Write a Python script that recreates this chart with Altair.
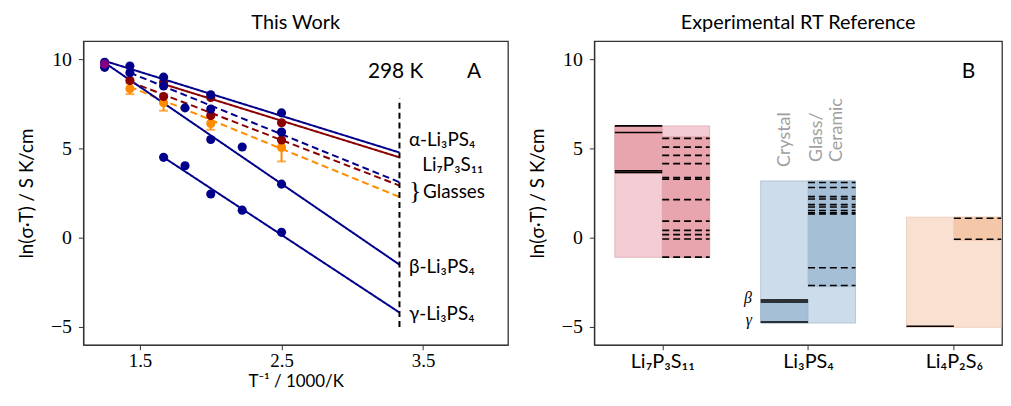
import altair as alt
import pandas as pd

SANS = "Lato"
SERIF = "Liberation Serif"

# ---------------- Panel A data ----------------
pt_series = (["glass_o"] * 4 + ["glass_r"] * 4 + ["li7"] * 3 + ["glass_b"] * 4 +
             ["beta"] * 5 + ["gamma"] * 5 + ["alpha"] * 5 + ["purple"])
pt_x = [1.4286, 1.6667, 2.0, 2.5,
        1.4286, 1.6667, 2.0, 2.5,
        1.6667, 2.0, 2.5,
        1.4286, 1.6667, 2.0, 2.5,
        1.25, 1.8182, 2.0, 2.2222, 2.5,
        1.6667, 1.8182, 2.0, 2.2222, 2.5,
        1.25, 1.4286, 1.6667, 2.0, 2.5,
        1.25]
pt_y = [8.34, 7.56, 6.40, 5.05,
        8.80, 7.91, 6.84, 5.47,
        8.70, 7.85, 6.44,
        9.24, 8.50, 7.21, 5.92,
        9.54, 7.27, 5.50, 5.08, 3.00,
        4.50, 4.03, 2.45, 1.54, 0.30,
        9.82, 9.61, 8.99, 8.00, 6.99,
        9.72]

err_x = [1.4286, 1.6667, 2.0, 2.5]
err_y = [8.34, 7.56, 6.40, 5.05]
err_sd = [0.30, 0.45, 0.35, 0.78]

fit_series = ["alpha", "li7", "glass_b", "glass_r", "glass_o", "beta", "gamma"]
fit_dash = ["solid", "solid", "dashed", "dashed", "dashed", "solid", "solid"]
fit_x0 = [1.25, 1.6667, 1.4286, 1.4286, 1.4286, 1.25, 1.6667]
fit_y0 = [9.90, 8.60, 9.24, 8.74, 8.45, 9.80, 4.50]
fit_x1 = [3.3333] * 7
fit_y1 = [4.77, 4.50, 3.11, 2.92, 2.28, -1.51, -4.19]

rt_x = [3.3333]
rt_y0 = [-5.0]
rt_y1 = [7.8]

series_dom = ["alpha", "beta", "gamma", "glass_b", "li7", "glass_r", "glass_o", "purple"]
series_col = ["#00008b", "#00008b", "#00008b", "#00008b", "#8b0000", "#8b0000", "#ff8c00", "#800080"]

lab_text = ["α-Li₃PS₄", "Li₇P₃S₁₁", "Glasses", "β-Li₃PS₄", "γ-Li₃PS₄"]
lab_x = [3.40, 3.495, 3.50, 3.40, 3.40]
lab_y = [5.45, 4.05, 2.55, -1.62, -4.28]

# ---------------- Panel B data ----------------
compounds = ["Li₇P₃S₁₁", "Li₃PS₄", "Li₄P₂S₆"]
outer_lo = [-1.10, -4.78, -5.02]
outer_hi = [6.26, 3.18, 1.15]
cryst_lo = [3.61, -4.78, -4.96]
cryst_hi = [6.26, -3.48, -4.96]
glass_lo = [-1.10, -2.74, -0.15]
glass_hi = [5.65, 3.18, 1.15]
cryst_vals = [[6.26, 5.89, 3.74, 3.65], [-3.49, -3.60, -4.72], [-4.96]]
glass_vals = [[5.56, 5.07, 4.61, 4.15, 3.37, 3.28, 2.13, 0.93, 0.41, 0.17, -0.07, -1.09],
              [3.09, 2.81, 2.30, 2.17, 1.85, 1.72, 1.52, 1.39, 1.33, -1.68, -2.68],
              [1.09, -0.09]]
light_col = ["#f4cdd4", "#ccdcea", "#fae0d0"]
dark_col = ["#e8a5ad", "#a4bfd6", "#f4c7a9"]
edge_col = ["#d9a0a8", "#9fb6ca", "#e8c4ae"]

HALF = 0.325

# ---------------- Panel A chart ----------------
pts = pd.DataFrame({"x": pt_x, "y": pt_y, "s": pt_series})
pts["order"] = range(len(pts))
errs = pd.DataFrame({"x": err_x, "lo": [a - b for a, b in zip(err_y, err_sd)],
                     "hi": [a + b for a, b in zip(err_y, err_sd)], "s": "glass_o"})
fit_rows = []
for s, d, x0, y0, x1, y1 in zip(fit_series, fit_dash, fit_x0, fit_y0, fit_x1, fit_y1):
    fit_rows.append({"s": s, "d": d, "x": x0, "y": y0})
    fit_rows.append({"s": s, "d": d, "x": x1, "y": y1})
fits = pd.DataFrame(fit_rows)

xA = alt.X("x:Q", scale=alt.Scale(domain=[1.1, 4.1], nice=False, zero=False),
           axis=alt.Axis(values=[1.5, 2.5, 3.5], format=".1f", title="T⁻¹ / 1000/K"))
yA = alt.Y("y:Q", scale=alt.Scale(domain=[-6, 11], nice=False, zero=False),
           axis=alt.Axis(values=[-5, 0, 5, 10], title="ln(σ·T) / S K/cm"))
colA = alt.Color("s:N", scale=alt.Scale(domain=series_dom, range=series_col), legend=None)

lines = alt.Chart(fits).mark_line(strokeWidth=2).encode(
    x=xA, y=yA, color=colA, detail="s:N",
    strokeDash=alt.StrokeDash("d:N", scale=alt.Scale(domain=["solid", "dashed"], range=[[1, 0], [7, 4]]), legend=None))
ebars = alt.Chart(errs).mark_rule(strokeWidth=2).encode(x="x:Q", y="lo:Q", y2="hi:Q", color=colA)
ecap_lo = alt.Chart(errs).mark_tick(orient="horizontal", size=9, thickness=2).encode(x="x:Q", y="lo:Q", color=colA)
ecap_hi = alt.Chart(errs).mark_tick(orient="horizontal", size=9, thickness=2).encode(x="x:Q", y="hi:Q", color=colA)
points = alt.Chart(pts).mark_circle(size=85, opacity=1).encode(x=xA, y=yA, color=colA, order="order:Q")
vrule = alt.Chart(pd.DataFrame({"x": rt_x, "y": rt_y0, "y2": rt_y1})).mark_rule(
    strokeWidth=2, strokeDash=[6, 4], color="black").encode(x="x:Q", y="y:Q", y2="y2:Q")
labs = alt.Chart(pd.DataFrame({"x": lab_x, "y": lab_y, "t": lab_text})).mark_text(
    align="left", baseline="middle", font=SANS, fontSize=19, color="black").encode(x="x:Q", y="y:Q", text="t:N")
brace = alt.Chart(pd.DataFrame({"x": [3.40], "y": [2.6], "t": ["}"]})).mark_text(
    align="left", baseline="middle", font=SERIF, fontSize=26, color="black").encode(x="x:Q", y="y:Q", text="t:N")
hdrA = alt.Chart(pd.DataFrame({"x": [3.306, 3.86], "y": [9.3, 9.3], "t": ["298 K", "A"]})).mark_text(
    align="center", baseline="middle", font=SANS, fontSize=21, color="black").encode(x="x:Q", y="y:Q", text="t:N")

left = alt.layer(lines, ebars, ecap_lo, ecap_hi, points, vrule, labs, brace, hdrA).properties(
    width=428, height=306,
    title=alt.TitleParams("This Work", fontSize=20, font=SANS, fontWeight="normal", offset=8))

# ---------------- Panel B chart ----------------
rects = []
lines_b = []
for i, c in enumerate(compounds):
    rects.append({"c": c, "k": "outer", "x": i - HALF, "x2": i + HALF, "y": outer_lo[i], "y2": outer_hi[i],
                  "fill": light_col[i], "edge": edge_col[i]})
    if cryst_hi[i] > cryst_lo[i]:
        rects.append({"c": c, "k": "cryst", "x": i - HALF, "x2": i, "y": cryst_lo[i], "y2": cryst_hi[i],
                      "fill": dark_col[i], "edge": edge_col[i]})
    rects.append({"c": c, "k": "glass", "x": i, "x2": i + HALF, "y": glass_lo[i], "y2": glass_hi[i],
                  "fill": dark_col[i], "edge": edge_col[i]})
    for v in cryst_vals[i]:
        lines_b.append({"x": i - HALF, "x2": i, "y": v, "d": "solid"})
    for v in glass_vals[i]:
        lines_b.append({"x": i, "x2": i + HALF, "y": v, "d": "dashed"})
rdf = pd.DataFrame(rects)
ldf = pd.DataFrame(lines_b)

label_expr = "[" + ",".join("'" + c + "'" for c in compounds) + "][datum.value]"
xB = alt.X("x:Q", scale=alt.Scale(domain=[-0.466, 2.33], nice=False, zero=False),
           axis=alt.Axis(values=[0, 1, 2], labelExpr=label_expr, title=None, labelFont=SANS, labelFontSize=20))
yB = alt.Y("y:Q", scale=alt.Scale(domain=[-6, 11], nice=False, zero=False),
           axis=alt.Axis(values=[-5, 0, 5, 10], title="ln(σ·T) / S K/cm"))

boxes = alt.Chart(rdf).mark_rect(strokeWidth=1, strokeOpacity=0.7).encode(
    x=xB, x2="x2:Q", y=yB, y2="y2:Q",
    fill=alt.Fill("fill:N", scale=None), stroke=alt.Stroke("edge:N", scale=None))
blines = alt.Chart(ldf).mark_rule(strokeWidth=1.6, color="black").encode(
    x="x:Q", x2="x2:Q", y="y:Q",
    strokeDash=alt.StrokeDash("d:N", scale=alt.Scale(domain=["solid", "dashed"], range=[[1, 0], [4, 2.5]]), legend=None))
hdrB = alt.Chart(pd.DataFrame({"x": [2.1], "y": [9.3], "t": ["B"]})).mark_text(
    align="center", baseline="middle", font=SANS, fontSize=21, color="black").encode(x="x:Q", y="y:Q", text="t:N")
vlabs = alt.Chart(pd.DataFrame({"x": [0.84, 1.06, 1.20], "y": [3.96, 4.24, 4.24],
                                "t": ["Crystal", "Glass/", "Ceramic"]})).mark_text(
    angle=270, align="left", baseline="middle", font=SANS, fontSize=18, color="#a0a0a0").encode(
    x="x:Q", y="y:Q", text="t:N")
greek = alt.Chart(pd.DataFrame({"x": [0.615, 0.615], "y": [-3.4, -4.6], "t": ["β", "γ"]})).mark_text(
    align="right", baseline="middle", font=SERIF, fontSize=16, fontStyle="italic", color="black").encode(
    x="x:Q", y="y:Q", text="t:N")

right = alt.layer(boxes, blines, hdrB, vlabs, greek).properties(
    width=411, height=306,
    title=alt.TitleParams("Experimental RT Reference", fontSize=20, font=SANS, fontWeight="normal", offset=8))

chart = alt.hconcat(left, right, spacing=19).properties(
    padding={"left": 9, "top": 3, "right": 0, "bottom": 0}
).configure_view(stroke="#333", strokeWidth=1.3).configure_axis(
    grid=False, domainColor="#333", tickColor="#333", tickSize=5, labelColor="black",
    labelFont=SERIF, labelFontSize=20, titleFont=SANS, titleFontSize=19, titleFontWeight="normal",
    titleColor="black"
).configure_axisY(titlePadding=14, labelPadding=7).configure_axisX(
    labelPadding=2, titlePadding=3, titleFontSize=17, labelFontSize=19)

chart.save("out.html", embed_options={"renderer": "svg", "actions": False})
